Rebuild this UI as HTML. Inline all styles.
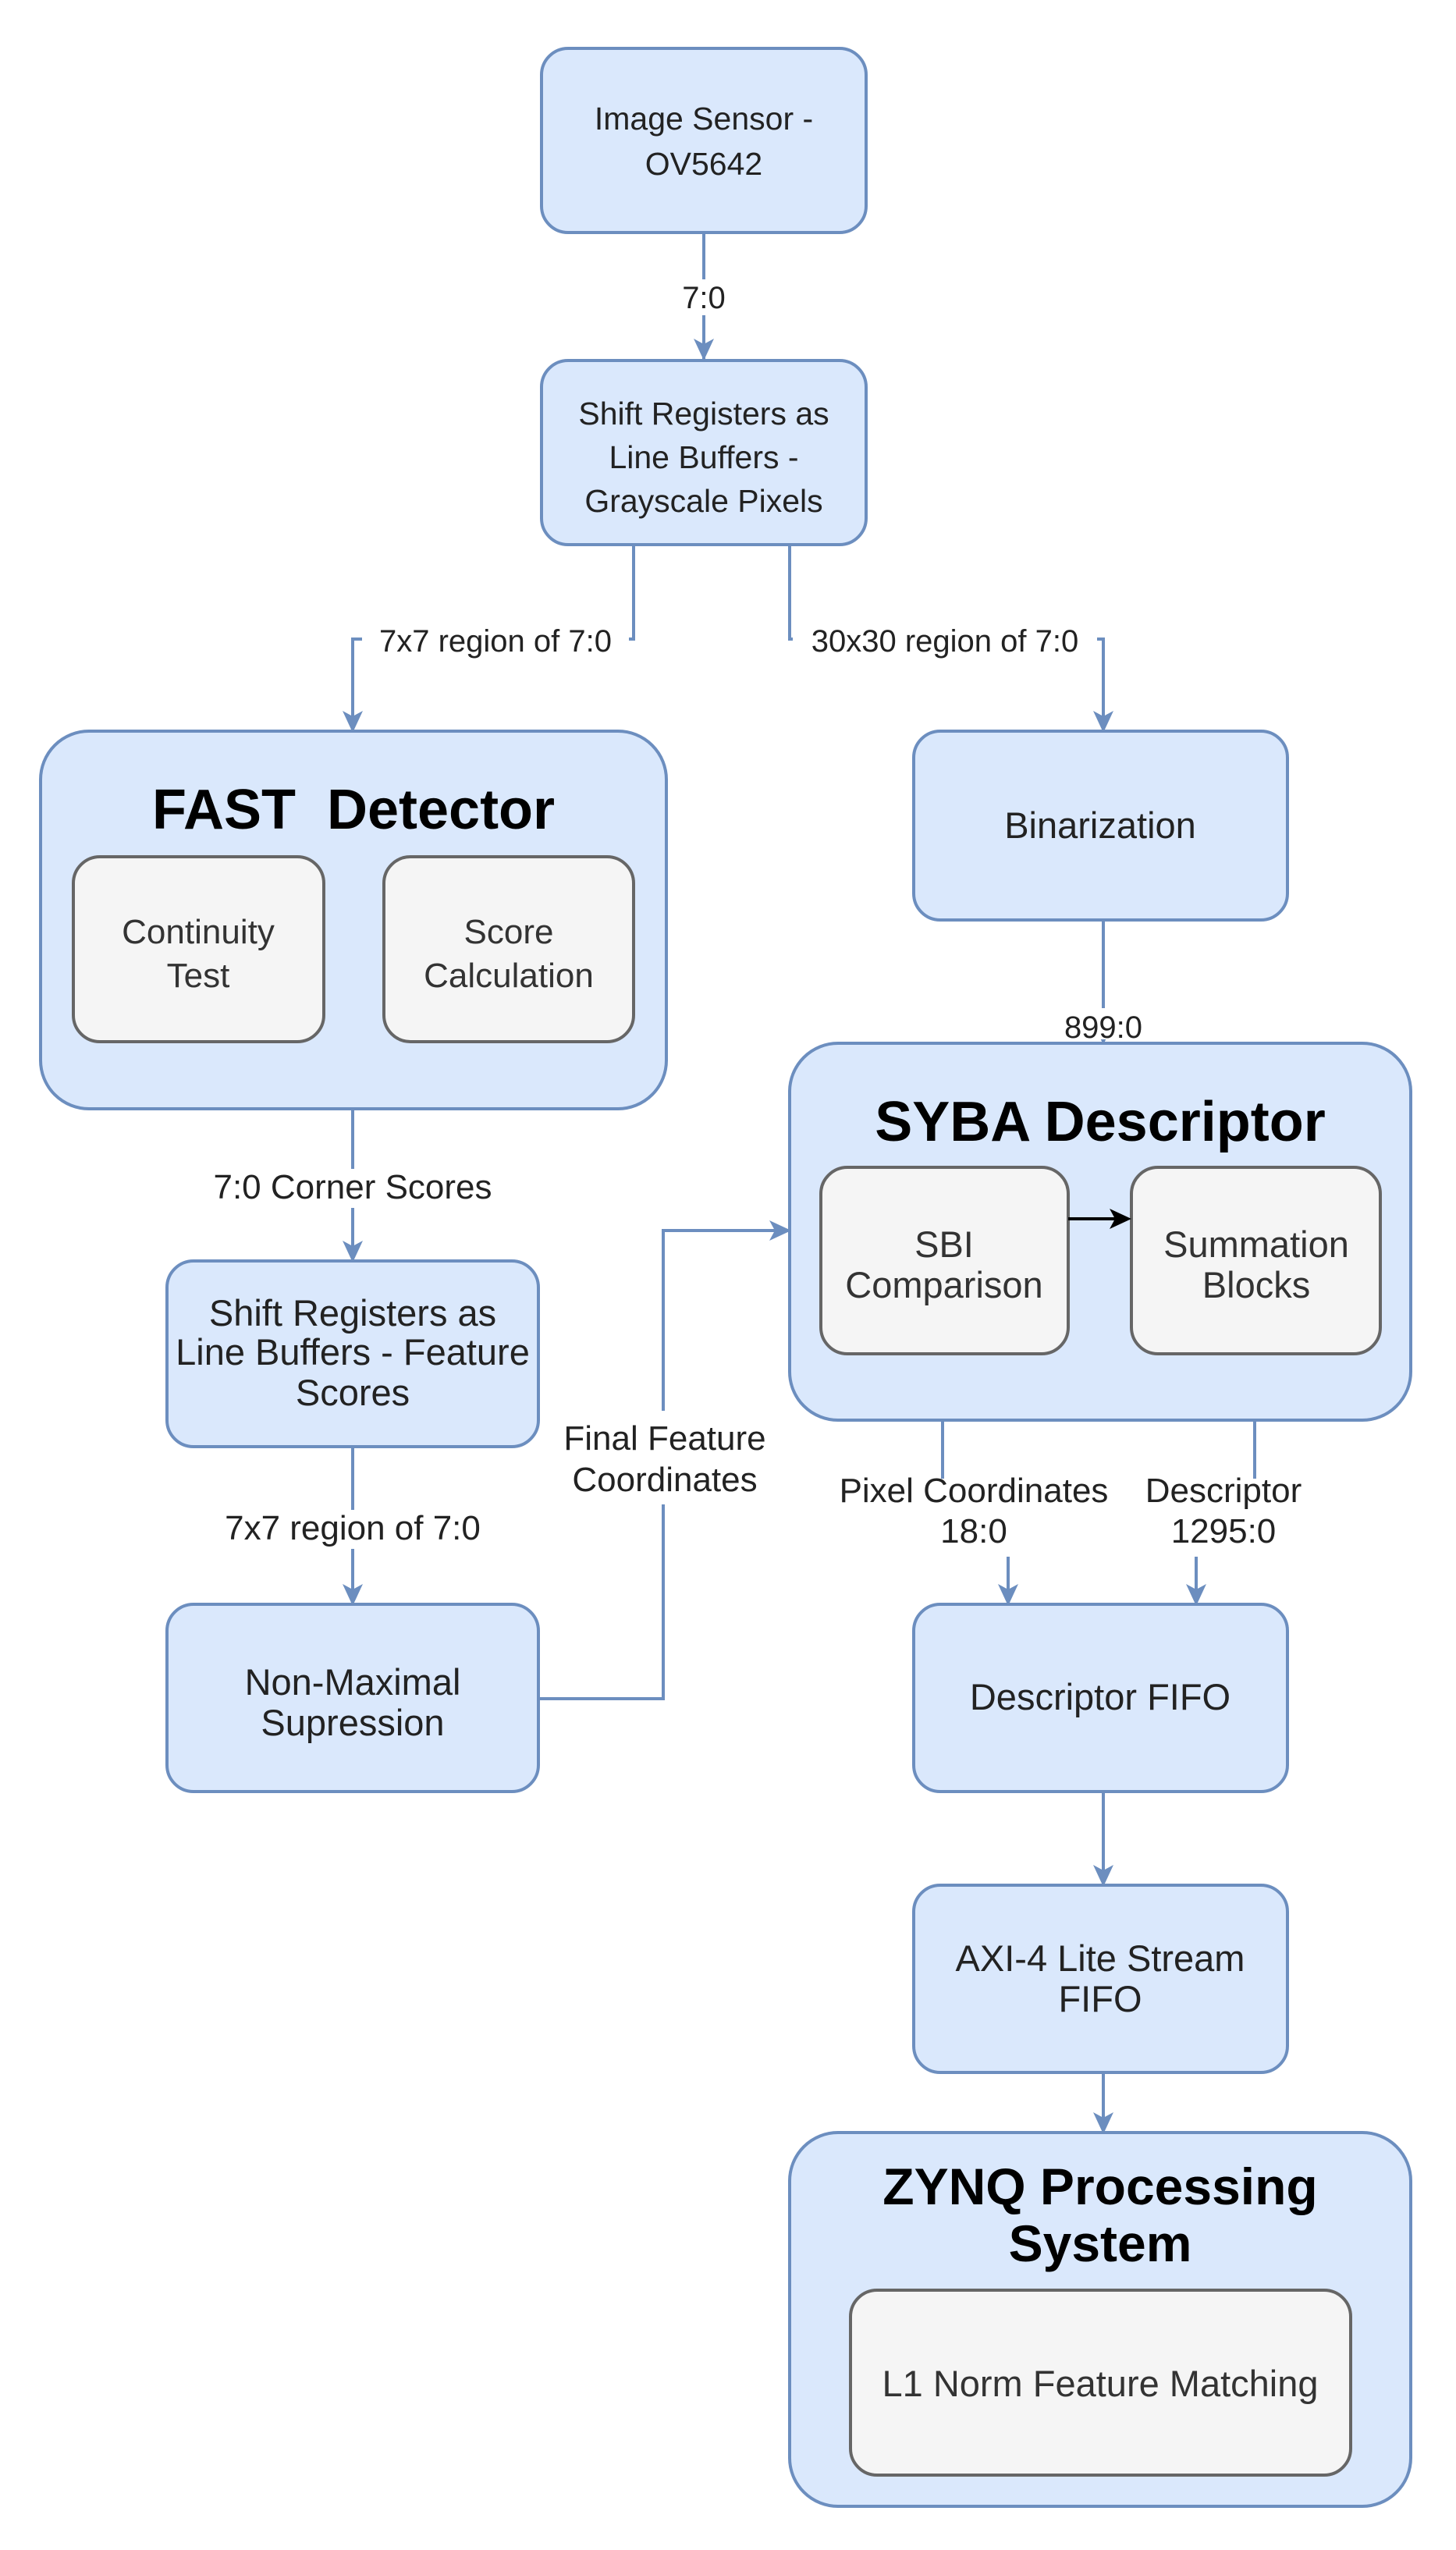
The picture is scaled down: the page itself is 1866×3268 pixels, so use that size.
<!DOCTYPE html>
<html><head><meta charset="utf-8"><style>html,body{margin:0;padding:0;background:#fff}svg{display:block}</style></head>
<body>
<svg width="1866" height="3268" viewBox="0 0 1866 3268" xmlns="http://www.w3.org/2000/svg" font-family="Liberation Sans, Arial, sans-serif">
<g fill="none" stroke="#6c8ebf" stroke-width="4">
<path d="M902 298 V460"/>
<path d="M812 698 V819 H452 V937"/>
<path d="M1012 698 V819 H1414 V937"/>
<path d="M1414 1179 V1337"/>
<path d="M452 1421 V1616"/>
<path d="M452 1854 V2056"/>
<path d="M690 2177 H850 V1577 H1012"/>
<path d="M1208 1820 V1895 M1292 1995 V2056"/>
<path d="M1608 1820 V1895 M1533 1995 V2056"/>
<path d="M1414 2296 V2416"/>
<path d="M1414 2656 V2733"/>
</g>
<g fill="#6c8ebf">
<path d="M889 434 L902 462 L915 434 L902 441Z"/>
<path d="M439 911 L452 939 L465 911 L452 918Z"/>
<path d="M1401 911 L1414 939 L1427 911 L1414 918Z"/>
<path d="M1401 1311 L1414 1339 L1427 1311 L1414 1318Z"/>
<path d="M439 1590 L452 1618 L465 1590 L452 1597Z"/>
<path d="M439 2030 L452 2058 L465 2030 L452 2037Z"/>
<path d="M986 1564 L1014 1577 L986 1590 L993 1577Z"/>
<path d="M1279 2030 L1292 2058 L1305 2030 L1292 2037Z"/>
<path d="M1520 2030 L1533 2058 L1546 2030 L1533 2037Z"/>
<path d="M1401 2390 L1414 2418 L1427 2390 L1414 2397Z"/>
<path d="M1401 2707 L1414 2735 L1427 2707 L1414 2714Z"/>
</g>
<g fill="#fff">
<rect x="870" y="358" width="64" height="46"/>
<rect x="464" y="797" width="342" height="46"/>
<rect x="1016" y="797" width="390" height="46"/>
<rect x="1370" y="1292" width="90" height="40"/>
<rect x="250" y="1498" width="404" height="50"/>
<rect x="260" y="1935" width="384" height="50"/>
<rect x="740" y="1808" width="224" height="120"/>
</g>
<g fill="#dae8fc" stroke="#6c8ebf" stroke-width="4">
<rect x="694" y="62" width="416" height="236" rx="34"/>
<rect x="694" y="462" width="416" height="236" rx="34"/>
<rect x="52" y="937" width="802" height="484" rx="62"/>
<rect x="1171" y="937" width="479" height="242" rx="34"/>
<rect x="1012" y="1337" width="796" height="483" rx="62"/>
<rect x="214" y="1616" width="476" height="238" rx="34"/>
<rect x="214" y="2056" width="476" height="240" rx="34"/>
<rect x="1171" y="2056" width="479" height="240" rx="34"/>
<rect x="1171" y="2416" width="479" height="240" rx="34"/>
<rect x="1012" y="2733" width="796" height="479" rx="62"/>
</g>
<g fill="#f5f5f5" stroke="#666" stroke-width="4">
<rect x="94" y="1098" width="321" height="237" rx="34"/>
<rect x="492" y="1098" width="320" height="237" rx="34"/>
<rect x="1052" y="1496" width="317" height="239" rx="34"/>
<rect x="1450" y="1496" width="319" height="239" rx="34"/>
<rect x="1090" y="2935" width="641" height="237" rx="34"/>
</g>
<path d="M1369 1562 H1440" stroke="#000" stroke-width="4"/>
<path d="M1422 1549 L1450 1562 L1422 1575 L1429 1562Z" fill="#000"/>
<g font-size="41" fill="#222" text-anchor="middle">
<text x="902" y="166">Image Sensor -</text><text x="902" y="224">OV5642</text>
<text x="902" y="544">Shift Registers as</text><text x="902" y="600">Line Buffers -</text><text x="902" y="656">Grayscale Pixels</text>
</g>
<g font-size="47" fill="#222" text-anchor="middle">
<text x="1410" y="1074">Binarization</text>
<text x="452" y="1699">Shift Registers as</text><text x="452" y="1749">Line Buffers - Feature</text><text x="452" y="1801">Scores</text>
<text x="452" y="2172">Non-Maximal</text><text x="452" y="2224">Supression</text>
<text x="1410" y="2191">Descriptor FIFO</text>
<text x="1410" y="2526">AXI-4 Lite Stream</text><text x="1410" y="2578">FIFO</text>
</g>
<g font-size="44" fill="#333" text-anchor="middle">
<text x="254" y="1209">Continuity</text><text x="254" y="1265">Test</text>
<text x="652" y="1209">Score</text><text x="652" y="1265">Calculation</text>
</g>
<g font-size="47" fill="#333" text-anchor="middle">
<text x="1210" y="1611">SBI</text><text x="1210" y="1663">Comparison</text>
<text x="1610" y="1611">Summation</text><text x="1610" y="1663">Blocks</text>
<text x="1410" y="3071">L1 Norm Feature Matching</text>
</g>
<g font-size="40" fill="#222" text-anchor="middle">
<text x="902" y="395">7:0</text>
<text x="635" y="835">7x7 region of 7:0</text>
<text x="1211" y="835">30x30 region of 7:0</text>
<text x="1414" y="1330">899:0</text>
</g>
<g font-size="44" fill="#222" text-anchor="middle">
<text x="452" y="1536">7:0 Corner Scores</text>
<text x="452" y="1973">7x7 region of 7:0</text>
<text x="852" y="1858">Final Feature</text><text x="852" y="1911">Coordinates</text>
<text x="1248" y="1925">Pixel Coordinates</text><text x="1248" y="1977">18:0</text>
<text x="1568" y="1925">Descriptor</text><text x="1568" y="1977">1295:0</text>
</g>
<g font-size="72" font-weight="bold" fill="#000" text-anchor="middle">
<text x="453" y="1062" xml:space="preserve">FAST  Detector</text>
<text x="1410" y="1462">SYBA Descriptor</text>
</g>
<g font-size="66" font-weight="bold" fill="#000" text-anchor="middle">
<text x="1410" y="2825">ZYNQ Processing</text>
<text x="1410" y="2898">System</text>
</g>
</svg>
</body></html>
